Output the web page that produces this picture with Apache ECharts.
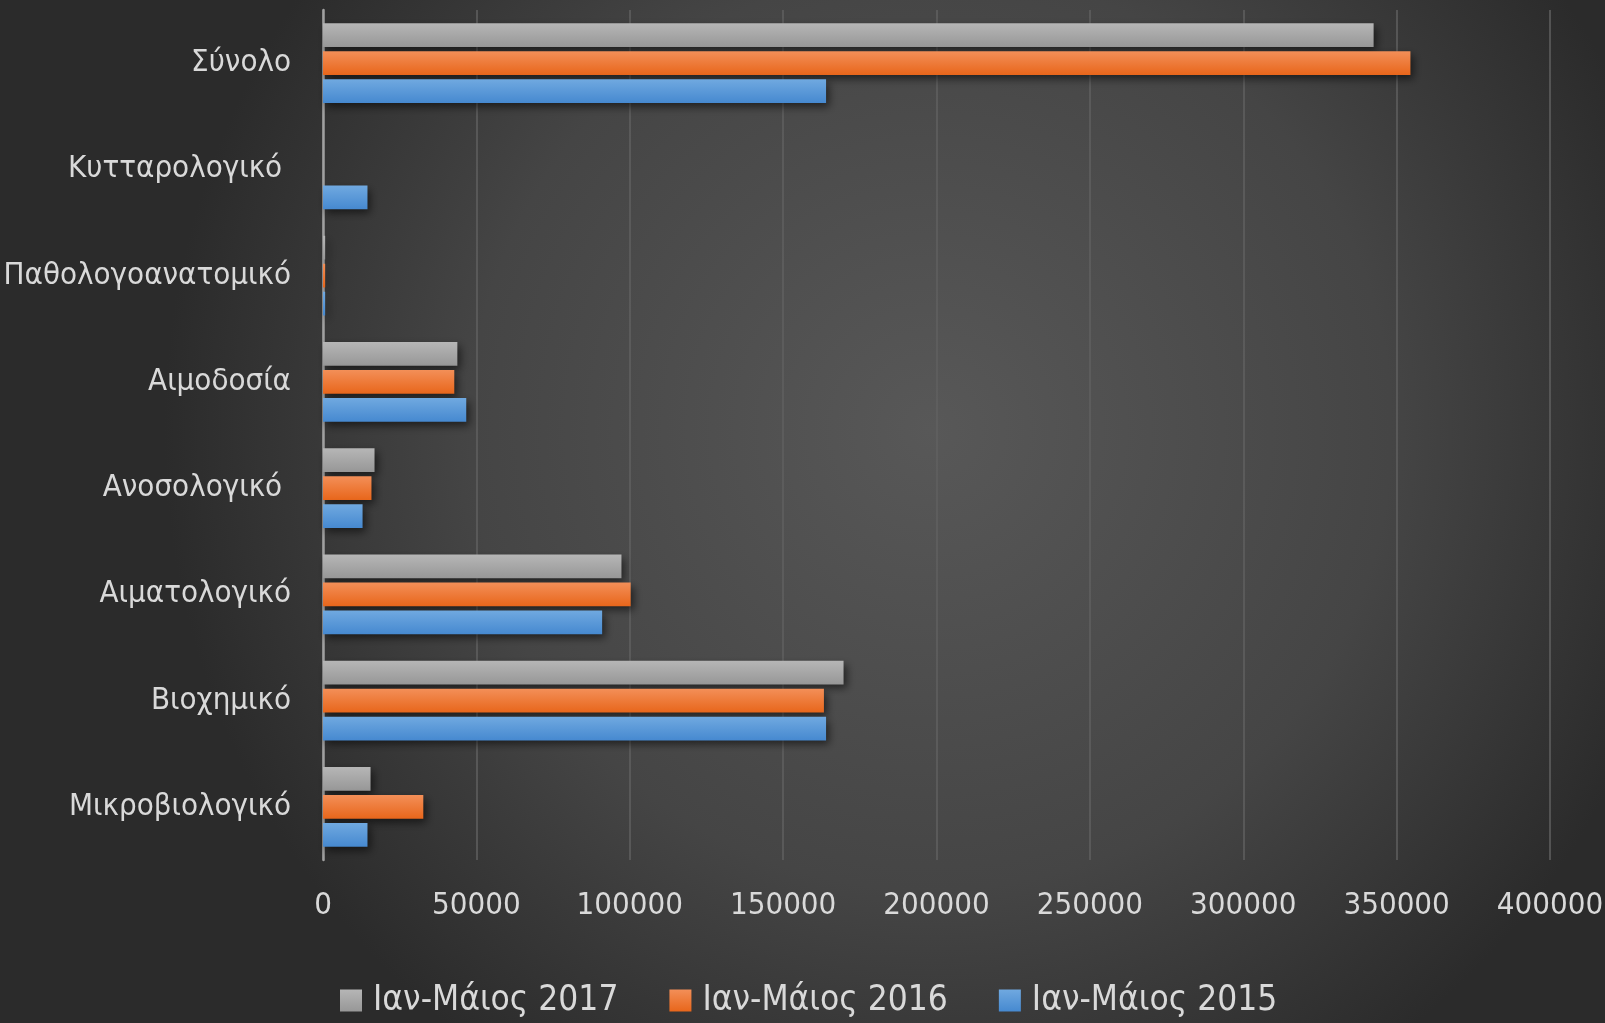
<!DOCTYPE html>
<html><head><meta charset="utf-8">
<script src="https://cdn.jsdelivr.net/npm/echarts@6/dist/echarts.min.js"></script>
<style>html,body{margin:0;padding:0;background:#333}#c{width:1605px;height:1023px}</style>
</head><body><div id="c"></div>
<script>
const categories = ['Μικροβιολογικό','Βιοχημικό','Αιματολογικό','Ανοσολογικό ','Αιμοδοσία','Παθολογοανατομικό','Κυτταρολογικό ','Σύνολο'];
const seriesNames = ['Ιαν-Μάιος 2017','Ιαν-Μάιος 2016','Ιαν-Μάιος 2015'];
const values2017 = [15500, 169700, 97300, 16800, 43800, 700, 0, 342500];
const values2016 = [32700, 163300, 100300, 15800, 42800, 700, 0, 354500];
const values2015 = [14500, 164000, 91000, 12900, 46700, 700, 14500, 164000];
const xTicks = [0, 50000, 100000, 150000, 200000, 250000, 300000, 350000, 400000];

const FONT = '"DejaVu Sans Condensed","Liberation Sans Narrow",sans-serif';
function grad(top, bottom){
  return {type:'linear',x:0,y:0,x2:0,y2:1,colorStops:[{offset:0,color:top},{offset:1,color:bottom}]};
}
const colors = [
  grad('#b6b6b6','#979797'),
  grad('#f38f58','#e8661b'),
  grad('#70a9e0','#4689d0')
];
const allValues = [values2017, values2016, values2015];

const chart = echarts.init(document.getElementById('c'), null, {renderer:'canvas'});
chart.setOption({
  backgroundColor: {type:'radial', x:0.58, y:0.42, r:0.75, colorStops:[{offset:0,color:'#585858'},{offset:0.6,color:'#454545'},{offset:1,color:'#2b2b2b'}]},
  animation:false,
  grid:{left:323, right:55, top:10, bottom:163, containLabel:false, outerBoundsMode:'none'},
  legend:{
    data:seriesNames,
    bottom:0, left:335,
    itemWidth:22, itemHeight:22, itemGap:51,
    icon:'rect',
    textStyle:{color:'#d9d9d9', fontSize:35, fontFamily:FONT, padding:[0,0,0,6]}
  },
  xAxis:{
    type:'value', min:xTicks[0], max:xTicks[xTicks.length-1], interval:xTicks[1]-xTicks[0],
    axisLine:{show:false}, axisTick:{show:false},
    axisLabel:{color:'#d9d9d9', fontSize:31, fontFamily:FONT, margin:30, formatter:(v)=>String(v)},
    splitLine:{show:true, lineStyle:{color:'#606060', width:1.5}}
  },
  yAxis:{
    type:'category', data:categories,
    axisLine:{show:true, lineStyle:{color:'#a0a0a0', width:2.5}},
    axisTick:{show:false},
    axisLabel:{color:'#d9d9d9', fontSize:31, fontFamily:FONT, margin:32}
  },
  series: allValues.map((v,i)=>({
    name:seriesNames[i], type:'bar', data:v,
    barCategoryGap:'25%', barGap:'18%',
    color: colors[i],
    itemStyle:{color:colors[i], shadowColor:'rgba(0,0,0,0.55)', shadowBlur:8, shadowOffsetX:3, shadowOffsetY:4}
  }))
});
</script></body></html>
